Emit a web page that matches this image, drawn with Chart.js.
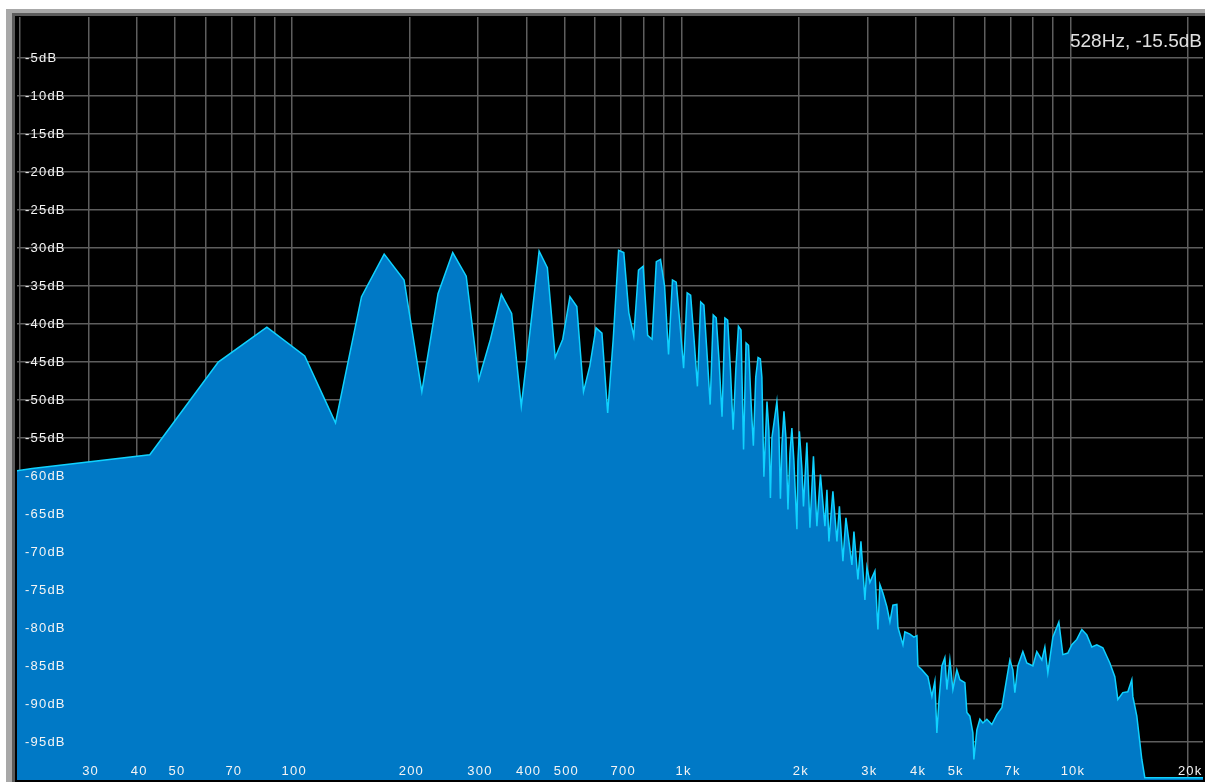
<!DOCTYPE html>
<html>
<head>
<meta charset="utf-8">
<script src="https://cdn.jsdelivr.net/npm/chart.js@4.4.0/dist/chart.umd.min.js"></script>
<style>
  html, body { margin: 0; padding: 0; background: #fff; overflow: hidden; }
</style>
</head>
<body>
<canvas id="spectrum" width="1205" height="782"></canvas>
<script>
// spectrum: frequency (Hz) and level (dB)
const freqHz = [
  19.6, 21.5, 43.1, 64.6, 86.1, 107.7, 129.2, 150.7, 172.3, 193.8,
  215.3, 236.9, 258.4, 279.9, 301.5, 323.0, 344.5, 366.1, 387.6, 409.1,
  430.7, 452.2, 473.7, 495.3, 516.8, 538.3, 559.9, 581.4, 602.9, 624.5,
  646.0, 667.5, 689.1, 710.6, 732.1, 753.7, 775.2, 796.8, 818.3, 839.8,
  861.3, 882.9, 904.4, 925.9, 947.5, 969.0, 990.5, 1012.1, 1033.6, 1055.1,
  1076.7, 1098.2, 1119.7, 1141.2, 1162.8, 1184.3, 1205.8, 1227.4, 1248.9, 1270.4,
  1292.0, 1313.5, 1335.0, 1356.6, 1378.1, 1399.6, 1421.2, 1442.7, 1464.2, 1485.8,
  1507.3, 1528.8, 1550.4, 1571.9, 1593.4,
  1608, 1627, 1657, 1676, 1691, 1706, 1757, 1778, 1794, 1810,
  1832, 1854, 1876, 1898, 1920, 1943, 1978, 1990, 2007, 2037,
  2056, 2098, 2136, 2181, 2226, 2273, 2334, 2362, 2390, 2447,
  2506, 2543, 2596, 2643, 2738, 2771, 2837, 2888, 2957, 2992,
  3045, 3137, 3193, 3231, 3289, 3367, 3428, 3489, 3572, 3594,
  3702, 3745, 3858, 3950, 4021, 4044, 4141, 4291, 4394, 4472,
  4525, 4579, 4661, 4744, 4801, 4887, 4975, 5093, 5184, 5340,
  5403, 5500, 5599, 5632, 5732, 5835, 5940, 6081, 6264, 6451,
  6645, 6764, 6967, 7093, 7176, 7304, 7524, 7703, 7983, 8172,
  8418, 8569, 8722, 8985, 9308, 9532, 9816, 10051, 10352, 10663,
  10983, 11313, 11652, 12075, 12583, 12960, 13192, 13589, 13995, 14331,
  14417, 14760, 15204, 15476, 22000
]
const levelDb = [
  -59.3, -59.0, -57.2, -45.0, -40.4, -44.2, -53.0, -36.4, -30.8, -34.2,
  -48.9, -36.0, -30.6, -33.7, -47.3, -42.0, -36.1, -38.6, -50.8, -40.5,
  -30.4, -32.6, -44.4, -42.0, -36.4, -37.7, -48.9, -45.5, -40.5, -41.2,
  -51.7, -42.0, -30.3, -30.6, -38.5, -41.6, -32.9, -32.4, -41.5, -42.0,
  -31.8, -31.5, -35.0, -44.0, -34.2, -34.5, -40.0, -45.8, -35.9, -36.2,
  -42.0, -48.2, -37.1, -37.5, -44.0, -50.6, -38.8, -39.2, -45.0, -52.2,
  -39.2, -39.5, -46.0, -53.9, -46.0, -40.3, -40.8, -56.5, -42.5, -42.8,
  -50.0, -56.0, -47.0, -44.4, -44.6,
  -47.0, -60.1, -50.2, -54.0, -62.9, -55.0, -50.2, -54.0, -63.0, -56.0,
  -51.5, -55.0, -64.4, -57.0, -53.7, -58.0, -67.0, -58.0, -54.1, -59.0,
  -64.0, -55.6, -66.8, -57.4, -66.6, -59.8, -66.6, -61.8, -68.6, -62.0,
  -68.6, -64.0, -71.2, -65.5, -71.7, -67.3, -73.6, -68.6, -76.3, -72.0,
  -74.0, -72.5, -80.2, -74.3, -75.4, -77.2, -79.2, -77.0, -76.9, -79.9,
  -82.2, -80.5, -80.8, -81.2, -81.0, -85.0, -85.5, -86.4, -89.0, -87.0,
  -93.8, -89.7, -85.0, -83.9, -88.1, -84.2, -88.1, -85.5, -86.8, -87.2,
  -91.1, -91.6, -93.8, -97.3, -93.4, -92.0, -92.5, -92.0, -92.7, -91.4,
  -90.5, -88.1, -84.2, -85.5, -88.5, -85.0, -83.1, -84.6, -85.0, -83.1,
  -84.2, -82.5, -85.9, -81.2, -79.2, -83.5, -83.3, -82.2, -81.5, -80.2,
  -80.9, -82.5, -82.2, -82.6, -84.6, -86.4, -89.4, -88.5, -88.4, -86.8,
  -89.0, -91.6, -97.3, -99.7, -99.7
]

// axis grid and labels
const xTickHz = [20, 30, 40, 50, 60, 70, 80, 90, 100, 200, 300, 400, 500, 600, 700, 800, 900,
  1000, 2000, 3000, 4000, 5000, 6000, 7000, 8000, 9000, 10000, 20000]
const xTickText = ['', '30', '40', '50', '', '70', '', '', '100', '200', '300', '400', '500', '', '700', '', '',
  '1k', '2k', '3k', '4k', '5k', '', '7k', '', '', '10k', '20k']
const yTickDb = [-95, -90, -85, -80, -75, -70, -65, -60, -55, -50, -45, -40, -35, -30, -25, -20, -15, -10, -5]
const readout = '528Hz, -15.5dB'

const labelFont = { family: 'Liberation Sans', size: 13 }

// grey window frame, black screen, cursor readout
const screenFrame = {
  id: 'screenFrame',
  beforeDraw (chart) {
    const { ctx, width, height } = chart
    ctx.save()
    ctx.fillStyle = '#ffffff'
    ctx.fillRect(0, 0, width, height)
    ctx.fillStyle = '#a8a8a8'
    ctx.fillRect(6, 9, width - 6, height - 9)
    ctx.fillStyle = '#5c5c5c'
    ctx.fillRect(12, 13, width - 12, height - 13)
    ctx.fillStyle = '#000000'
    ctx.fillRect(15, 16, width - 15, height - 16)
    ctx.restore()
    // the screen font is spaced wider than Liberation Sans
    ctx.letterSpacing = '1.2px'
  },
  afterDraw (chart) {
    const { ctx } = chart
    ctx.letterSpacing = '0px'
    ctx.save()
    ctx.font = '19px "Liberation Sans"'
    ctx.fillStyle = '#e0e0e0'
    ctx.textAlign = 'right'
    ctx.textBaseline = 'middle'
    ctx.fillText(readout, 1202, 42)
    ctx.restore()
  }
}

const ctx = document.getElementById('spectrum').getContext('2d')
const spectrumChart = new Chart(ctx, {
  type: 'line',
  data: {
    datasets: [{
      data: freqHz.map((f, i) => ({ x: f, y: levelDb[i] })),
      borderColor: '#0fd2ff',
      borderWidth: 1.5,
      backgroundColor: '#0079c6',
      fill: 'start',
      pointRadius: 0,
      tension: 0
    }]
  },
  options: {
    responsive: false,
    devicePixelRatio: 1,
    animation: false,
    layout: { padding: { left: 17, top: 17, right: 2, bottom: 2 } },
    plugins: {
      legend: { display: false },
      tooltip: { enabled: false }
    },
    scales: {
      x: {
        type: 'logarithmic',
        min: 19.65,
        max: 21830,
        afterBuildTicks: (scale) => { scale.ticks = xTickHz.map(v => ({ value: v })) },
        afterFit: (scale) => {
          scale.height = 0
          scale.paddingLeft = 0
          scale.paddingRight = 0
        },
        border: { display: false },
        grid: { color: '#5e5e5e', lineWidth: 1.5, drawTicks: false },
        ticks: {
          z: 1,
          mirror: true,
          padding: 1,
          labelOffset: 2,
          autoSkip: false,
          maxRotation: 0,
          color: '#f4f4f4',
          font: labelFont,
          callback: (v) => xTickText[xTickHz.indexOf(v)] || ''
        }
      },
      y: {
        min: -100,
        max: 0.4,
        afterBuildTicks: (scale) => { scale.ticks = yTickDb.map(v => ({ value: v })) },
        afterFit: (scale) => {
          scale.width = 0
          scale.paddingTop = 0
          scale.paddingBottom = 0
        },
        border: { display: false },
        grid: { color: '#5e5e5e', lineWidth: 1.5, drawTicks: false },
        ticks: {
          z: 1,
          mirror: true,
          padding: 8,
          color: '#f4f4f4',
          font: labelFont,
          callback: (v) => v + 'dB'
        }
      }
    }
  },
  plugins: [screenFrame]
})
</script>
</body>
</html>
